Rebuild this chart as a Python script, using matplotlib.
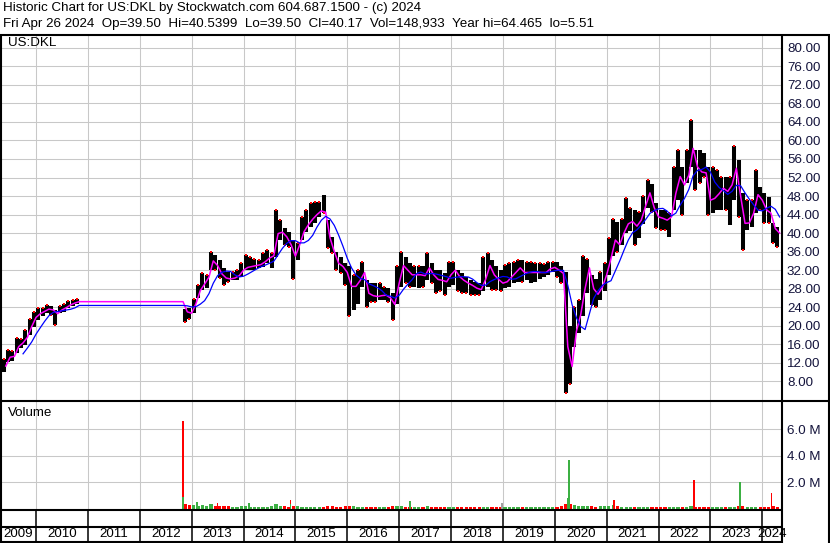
import numpy as np
import pandas as pd
import matplotlib
matplotlib.use("Agg")
import matplotlib.pyplot as plt

plt.rcParams['font.family'] = ['Liberation Sans', 'DejaVu Sans']

# monthly price data (two trading periods, gap between them)
seg1 = ('2009-05', '2010-10')
seg2 = ('2012-11', '2024-04')

lows = [
    10.0, 12.2, 12.3, 14.2, 15.3, 15.8, 18.0, 19.8,                      # 2009
    21.3, 22.0, 22.8, 22.4, 20.2, 22.7, 23.0, 23.8, 24.2, 24.8,          # 2010
    20.8, 21.5,                                                          # 2012
    22.7, 25.9, 27.7, 28.2, 32.0, 32.0, 30.3, 28.8, 29.5, 29.9, 29.9, 30.6,
    32.0, 32.0, 32.0, 32.4, 32.7, 33.5, 32.4, 34.9, 38.5, 37.4, 37.1, 30.0,
    34.2, 38.5, 40.3, 41.4, 42.1, 43.5, 44.3, 36.7, 35.6, 32.0, 31.3, 28.8,
    22.0, 23.5, 24.8, 28.4, 24.1, 25.2, 25.2, 25.5, 25.5, 25.2, 21.3, 24.8,
    28.4, 29.2, 28.4, 28.4, 28.1, 28.4, 29.9, 29.2, 27.0, 27.4, 26.6, 28.4,
    28.8, 27.4, 27.0, 27.0, 26.6, 26.6, 26.6, 27.4, 28.4, 27.7, 27.7, 27.4,
    28.1, 28.4, 29.2, 29.5, 29.5, 29.9, 29.2, 29.5, 30.0, 30.5, 30.9, 31.6,
    30.5, 29.3, 5.5, 7.5, 15.5, 18.4, 22.0, 27.0, 24.5, 24.0, 25.5, 27.5,
    31.0, 35.0, 36.0, 37.5, 40.0, 40.5, 37.5, 39.0, 42.0, 45.5, 44.5, 41.0,
    40.7, 40.7, 39.2, 45.0, 47.1, 44.0, 50.8, 54.3, 49.3, 50.8, 52.2, 43.9,
    44.3, 45.0, 45.0, 45.0, 41.7, 47.1, 43.5, 36.3, 40.7, 41.4, 44.3, 45.0,
    42.1, 42.1, 37.8, 37.1,                                              # 2024
]
highs = [
    12.8, 14.8, 14.5, 17.4, 17.2, 19.0, 21.5, 23.0,
    23.8, 23.9, 24.4, 24.3, 23.3, 24.3, 24.6, 25.3, 25.5, 25.7,
    23.6, 23.8,
    25.8, 28.8, 31.3, 31.0, 36.0, 35.3, 34.2, 32.4, 31.7, 31.7, 32.0, 33.5,
    35.3, 34.9, 34.5, 34.2, 35.6, 36.3, 35.6, 45.0, 42.8, 41.0, 40.3, 38.5,
    37.8, 43.5, 45.0, 46.4, 46.8, 46.8, 48.2, 42.8, 39.2, 35.9, 34.9, 33.5,
    33.0, 31.0, 32.0, 33.8, 29.9, 29.2, 29.2, 29.2, 28.4, 28.1, 27.0, 32.8,
    36.0, 34.9, 33.5, 32.8, 32.8, 32.8, 35.6, 33.5, 32.0, 32.0, 31.3, 33.8,
    33.8, 32.0, 31.3, 30.6, 29.9, 29.5, 29.2, 34.9, 35.6, 34.2, 32.8, 32.0,
    33.1, 33.5, 33.8, 34.2, 34.2, 33.8, 33.8, 33.5, 33.5, 33.3, 33.7, 33.7,
    33.7, 32.8, 31.5, 20.0, 24.1, 25.6, 35.0, 34.5, 31.0, 30.0, 31.5, 33.5,
    39.0, 43.0, 42.5, 43.0, 47.5, 45.5, 45.0, 44.5, 48.0, 51.5, 50.5, 46.5,
    45.0, 45.0, 44.3, 54.3, 57.9, 54.3, 57.9, 64.4, 57.9, 57.9, 57.2, 54.3,
    54.3, 53.6, 52.2, 52.2, 52.2, 58.7, 55.8, 48.6, 47.1, 47.1, 53.6, 50.0,
    48.6, 47.9, 42.1, 41.4,
]
# monthly average price (what the short moving average follows)
avgs = [
    11.3, 13.2, 13.4, 15.5, 16.3, 17.5, 19.8, 21.8,
    22.6, 23.1, 23.6, 23.4, 22.6, 23.4, 23.9, 24.5, 24.9, 25.2,
    23.0, 22.7,
    24.8, 27.6, 29.0, 30.5, 34.0, 33.0, 31.2, 30.3, 30.1, 30.3, 30.8, 32.0,
    32.6, 32.8, 33.0, 33.2, 33.8, 34.6, 35.1, 39.9, 40.2, 39.2, 37.5, 35.0,
    37.5, 40.3, 41.8, 43.0, 44.0, 44.8, 44.5, 39.0, 36.0, 33.5, 32.8, 31.5,
    28.5, 28.5, 29.8, 31.5, 27.0, 26.5, 26.3, 26.5, 26.6, 26.0, 24.6, 29.2,
    33.0, 32.0, 31.0, 31.0, 31.0, 30.8, 32.5, 31.0, 30.0, 29.8, 29.5, 31.0,
    32.0, 30.6, 29.8, 29.2, 28.7, 28.1, 27.8, 30.0, 33.0, 31.0, 30.0, 29.2,
    29.5, 30.5, 31.5, 32.5, 31.5, 31.5, 31.5, 31.5, 31.5, 31.5, 32.3, 32.6,
    32.0, 31.3, 15.5, 11.2, 18.8, 22.4, 28.0, 32.5, 28.0, 26.8, 28.3, 31.0,
    34.5, 38.5, 37.5, 40.0, 42.0, 42.5, 41.5, 42.8, 45.8, 48.7, 45.5, 43.5,
    43.2, 42.8, 43.5, 48.6, 52.2, 50.4, 52.5, 58.3, 54.3, 53.2, 53.0, 47.1,
    47.5, 48.5, 49.7, 49.0, 50.4, 54.0, 47.9, 42.1, 42.2, 44.3, 48.3, 47.1,
    45.0, 44.3, 41.0, 40.0,
]
# typical daily volume per month, millions
vols = [
    0.03, 0.03, 0.03, 0.03, 0.03, 0.03, 0.03, 0.03,
    0.03, 0.03, 0.03, 0.03, 0.03, 0.03, 0.03, 0.03, 0.03, 0.03,
    0.35, 0.3,
    0.3, 0.25, 0.3, 0.25, 0.35, 0.25, 0.2, 0.2, 0.2, 0.17, 0.17, 0.2,
    0.2, 0.17, 0.17, 0.15, 0.17, 0.17, 0.2, 0.35, 0.25, 0.2, 0.17, 0.25,
    0.2, 0.17, 0.17, 0.15, 0.15, 0.15, 0.17, 0.2, 0.2, 0.17, 0.15, 0.2,
    0.2, 0.2, 0.17, 0.17, 0.15, 0.15, 0.15, 0.15, 0.15, 0.15, 0.2, 0.2,
    0.2, 0.17, 0.15, 0.15, 0.15, 0.15, 0.2, 0.15, 0.15, 0.15, 0.15, 0.15,
    0.15, 0.15, 0.15, 0.12, 0.12, 0.12, 0.12, 0.17, 0.17, 0.15, 0.15, 0.15,
    0.15, 0.12, 0.12, 0.12, 0.12, 0.12, 0.12, 0.12, 0.12, 0.12, 0.12, 0.15,
    0.15, 0.2, 0.4, 0.35, 0.3, 0.25, 0.25, 0.2, 0.2, 0.17, 0.2, 0.2,
    0.2, 0.3, 0.2, 0.17, 0.17, 0.15, 0.15, 0.15, 0.15, 0.17, 0.15, 0.15,
    0.15, 0.15, 0.15, 0.17, 0.17, 0.17, 0.15, 0.2, 0.17, 0.15, 0.15, 0.15,
    0.15, 0.15, 0.15, 0.15, 0.15, 0.15, 0.2, 0.2, 0.17, 0.15, 0.15, 0.15,
    0.15, 0.17, 0.2, 0.15,
]
# single heavy volume days
spike_dates = ['2012-11-01', '2012-11-01', '2013-02-06', '2013-07-02', '2014-02-07',
               '2014-11-28', '2014-11-28', '2017-03-17', '2018-12-24', '2020-04-09',
               '2020-04-03', '2021-02-22', '2022-09-09', '2023-07-27', '2024-03-07']
spike_vols = [6.6, 0.9, 0.5, 0.43, 0.45, 0.68, 0.4, 0.6, 0.45, 3.7, 0.8, 0.65, 2.2, 2.05, 1.2]
spike_cols = ['r', 'g', 'g', 'r', 'g', 'r', 'g', 'g', 'n', 'g', 'g', 'r', 'r', 'g', 'r']

price_ticks = list(range(8, 81, 4))
vol_ticks = [2, 4, 6]
years = list(range(2009, 2025))

header1 = "Historic Chart for US:DKL by Stockwatch.com 604.687.1500 - (c) 2024"
header2 = ("Fri Apr 26 2024  Op=39.50  Hi=40.5399  Lo=39.50  Cl=40.17  "
           "Vol=148,933  Year hi=64.465  lo=5.51")

# ---------------------------------------------------------------
W, H = 830, 543
FS = 9.6
grid_c = '#c8c8c8'
txt_c = '#14143c'
red, green, gray = '#ff0000', '#3cb043', '#a0a0a0'


def box(x0, y0, x1, y1):
    return [x0 / W, 1 - y1 / H, (x1 - x0) / W, (y1 - y0) / H]


months = list(pd.period_range(*seg1, freq='M')) + list(pd.period_range(*seg2, freq='M'))
yr = np.array([p.year for p in months], dtype=float)
mo = np.array([p.month for p in months], dtype=float)
t_mid = yr + (mo - 0.5) / 12
t_end = yr + mo / 12
n1 = len(pd.period_range(*seg1, freq='M'))

lows, highs, avgs, vols = map(np.array, (lows, highs, avgs, vols))
up = np.r_[True, np.diff(avgs) >= 0]

# moving averages on the trading-month sequence (gap is skipped)
ma_short = pd.Series(avgs)
ma_long = pd.Series(avgs).rolling(5).mean()
gap_t = yr[n1] + (mo[n1] - 1) / 12
t_ma = np.insert(t_end, n1, gap_t)
ma_s = np.insert(ma_short.values, n1, ma_short.values[n1 - 1])
ma_l = np.insert(ma_long.values, n1, ma_long.values[n1 - 1])

sd = pd.to_datetime(spike_dates)
spike_t = sd.year + (sd.dayofyear - 1) / np.where(sd.is_leap_year, 366, 365)
cmap = {'r': red, 'g': green, 'n': gray}

fig = plt.figure(figsize=(W / 100, H / 100), dpi=100)
ax_p = fig.add_axes(box(1, 35, 781, 400))
ax_v = fig.add_axes(box(1, 401, 781, 509))
ax_y = fig.add_axes(box(1, 510, 781, 542))

x_lo, x_hi = 2009.325, 2024.36
for ax in (ax_p, ax_v, ax_y):
    ax.set_xlim(x_lo, x_hi)
    for s in ax.spines.values():
        s.set_visible(False)
    ax.set_xticks(years[1:])
    ax.tick_params(axis='x', length=0, labelbottom=False)

# price panel
ax_p.set_ylim(3.97, 82.77)
ax_p.yaxis.tick_right()
ax_p.set_yticks(price_ticks)
ax_p.set_yticklabels([f'{v:.2f}' for v in price_ticks])
ax_p.tick_params(axis='y', length=0, pad=4.3, labelsize=FS, labelcolor=txt_c)
ax_p.grid(True, color=grid_c, lw=0.75)
ax_p.set_axisbelow(True)

ax_p.vlines(t_mid, lows, highs, color='black', lw=2.9, zorder=2)
ax_p.plot(t_mid[up], highs[up], 's', ms=1.6, mew=0, color=red, zorder=3)
ax_p.plot(t_mid[~up], lows[~up], 's', ms=1.6, mew=0, color=red, zorder=3)
ax_p.plot(t_ma, ma_s, color='#ff00ff', lw=1.1, zorder=4)
ax_p.plot(t_ma, ma_l, color='#0000ff', lw=0.9, zorder=5)

# volume panel
ax_v.set_ylim(0, 8.1)
ax_v.yaxis.tick_right()
ax_v.set_yticks(vol_ticks)
ax_v.set_yticklabels([f'{v:.1f} M' for v in vol_ticks])
ax_v.tick_params(axis='y', length=0, pad=4.3, labelsize=FS, labelcolor=txt_c)
ax_v.grid(True, color=grid_c, lw=0.75)
ax_v.set_axisbelow(True)
ax_v.bar(t_mid, vols, width=0.75 / 12, color=np.where(up, green, red), lw=0, zorder=2)
ax_v.bar(spike_t, spike_vols, width=1.6 / 51.88, color=[cmap[c] for c in spike_cols],
         lw=0, zorder=3)

# year band
ax_y.set_ylim(0, 1)
ax_y.set_yticks([])
for y in years[1:]:
    ax_y.axvline(y, color='black', lw=1.1)
for y in years:
    a, b = max(y, x_lo), min(y + 1, x_hi)
    ax_y.text((a + b) / 2, 0.24, str(y), ha='center', va='center', fontsize=FS)

# frame lines and texts in pixel coordinates
ov = fig.add_axes([0, 0, 1, 1], zorder=10)
ov.set_xlim(0, W)
ov.set_ylim(H, 0)
ov.axis('off')
frame = [((0, 34.5), (W, 34.5)), ((0.8, 34), (0.8, H)), ((828.5, 34), (828.5, H)),
         ((781.5, 34), (781.5, H)), ((0, 400.5), (W, 400.5)), ((0, 509.5), (781.5, 509.5)),
         ((0, 526.5), (781.5, 526.5)), ((0, 541.8), (781.5, 541.8))]
for (x0, y0), (x1, y1) in frame:
    ov.plot([x0, x1], [y0, y1], color='black', lw=1.5, solid_capstyle='butt')

ov.text(3, 8.5, header1, fontsize=FS, va='center')
ov.text(3, 24, header2, fontsize=FS, va='center')
ov.text(8, 43, 'US:DKL', fontsize=FS, va='center')
ov.text(8, 413, 'Volume', fontsize=FS, va='center')

fig.savefig('out.png', dpi=100)
